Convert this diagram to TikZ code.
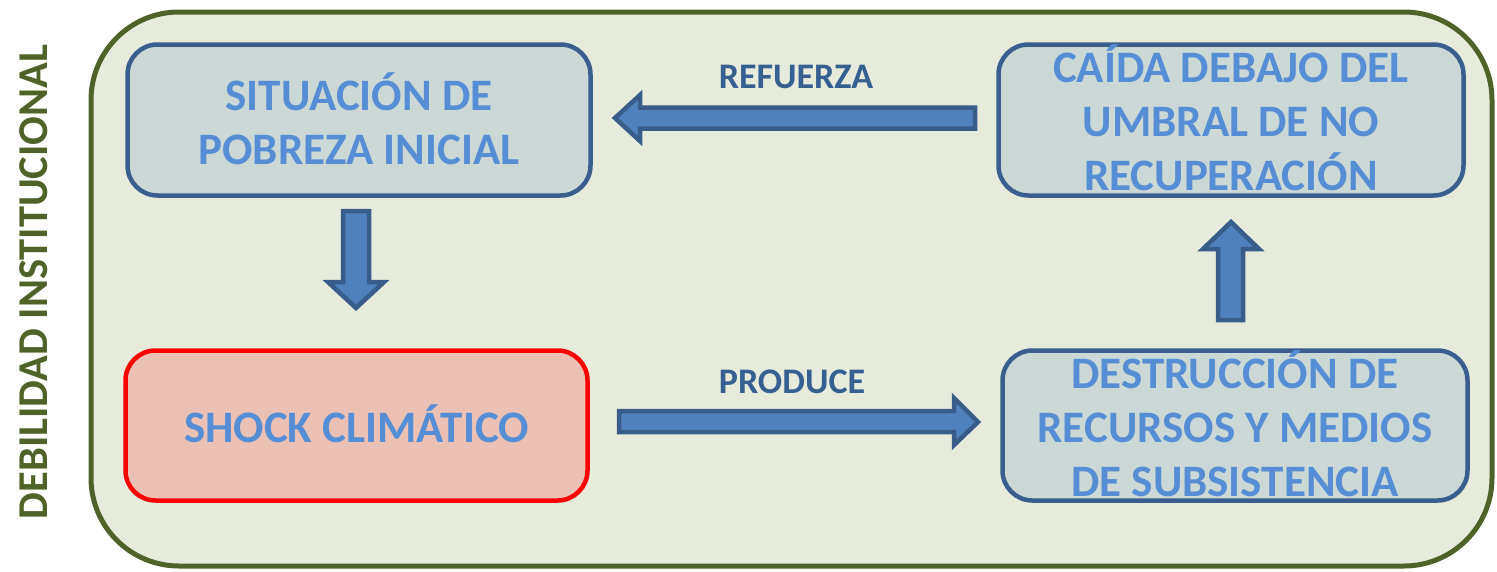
\documentclass[tikz,border=0pt]{standalone}
\usepackage{fontspec}
\setmainfont{Carlito}
\definecolor{bgfill}{HTML}{E7EBDC}
\definecolor{olive}{HTML}{4F6228}
\definecolor{boxfill}{HTML}{CBD8D6}
\definecolor{boxline}{HTML}{3A5F8E}
\definecolor{redfill}{HTML}{EBC1B5}
\definecolor{boxtext}{HTML}{558ED5}
\definecolor{labtext}{HTML}{376092}
\definecolor{arrfill}{HTML}{4F81BD}
\definecolor{arrline}{HTML}{385D8A}
\tikzset{
  stagebox/.style={draw=boxline, line width=4.5pt, fill=boxfill, rounded corners=30pt, inner sep=0pt},
  shockbox/.style={stagebox, draw=red, fill=redfill},
  boxlabel/.style={text=boxtext, font=\fontsize{45}{54}\selectfont\bfseries, align=center, inner sep=0pt},
  arrlabel/.style={text=labtext, font=\fontsize{36}{40}\selectfont\bfseries, inner sep=0pt, anchor=base},
  blockarrow/.style={draw=arrline, fill=arrfill, line width=4.5pt, line join=miter},
}
\begin{document}
\begin{tikzpicture}[x=1pt,y=-1pt]
\useasboundingbox (0,0) rectangle (1497,571);
% outer frame
\draw[draw=olive, fill=bgfill, line width=5pt, rounded corners=88pt] (91,12) rectangle (1492,566);
% vertical label
\node[text=olive, font=\fontsize{42.5}{44}\selectfont\bfseries, rotate=90, anchor=base, inner sep=0pt] (side) at (47,282) {DEBILIDAD INSTITUCIONAL};
% boxes
\node[stagebox, minimum width=463pt, minimum height=151pt] (b1) at (359,120) {};
\node[stagebox, minimum width=465pt, minimum height=151pt] (b2) at (1231,120) {};
\node[shockbox, minimum width=462pt, minimum height=150pt] (b3) at (356.5,425.5) {};
\node[stagebox, minimum width=465pt, minimum height=150pt] (b4) at (1235,425.5) {};
% box texts
\node[boxlabel] (t1) at (359,119) {SITUACIÓN DE\\POBREZA INICIAL};
\node[boxlabel] (t2) at (1231,118) {CAÍDA DEBAJO DEL\\UMBRAL DE NO\\RECUPERACIÓN};
\node[boxlabel] (t3) at (356.5,424) {SHOCK CLIMÁTICO};
\node[boxlabel] (t4) at (1235,424) {DESTRUCCIÓN DE\\RECURSOS Y MEDIOS\\DE SUBSISTENCIA};
% arrow labels
\node[arrlabel] (l1) at (796,88) {REFUERZA};
\node[arrlabel] (l2) at (792,393) {PRODUCE};
% block arrows
\draw[blockarrow] (975,107.5) -- (640,107.5) -- (640,95) -- (615,118) -- (640,141) -- (640,128.5) -- (975,128.5) -- cycle;
\draw[blockarrow] (343,211) -- (369,211) -- (369,282) -- (384,282) -- (356,308) -- (328,282) -- (343,282) -- cycle;
\draw[blockarrow] (1218,320) -- (1243,320) -- (1243,249) -- (1259,249) -- (1231,222) -- (1203,249) -- (1218,249) -- cycle;
\draw[blockarrow] (619,411) -- (954,411) -- (954,398) -- (978,422) -- (954,445) -- (954,432) -- (619,432) -- cycle;
\end{tikzpicture}
\end{document}
